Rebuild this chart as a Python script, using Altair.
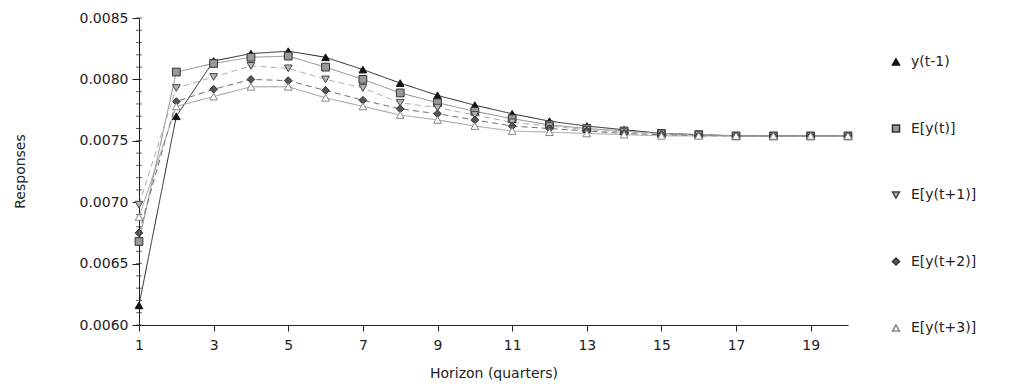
import altair as alt
import pandas as pd

horizon = list(range(1, 21))
series_names = ["y(t-1)", "E[y(t)]", "E[y(t+1)]", "E[y(t+2)]", "E[y(t+3)]"]

y_tm1 = [0.00616, 0.00770, 0.00815, 0.00821, 0.00823, 0.00818, 0.00808, 0.00797, 0.00787, 0.00779,
         0.00772, 0.00766, 0.00762, 0.00759, 0.00756, 0.00755, 0.00754, 0.00754, 0.00754, 0.00754]
e_t = [0.00668, 0.00806, 0.00813, 0.00818, 0.00819, 0.00810, 0.00800, 0.00789, 0.00781, 0.00774,
       0.00768, 0.00763, 0.00760, 0.00758, 0.00756, 0.00755, 0.00754, 0.00754, 0.00754, 0.00754]
e_t1 = [0.00698, 0.00793, 0.00802, 0.00811, 0.00809, 0.00800, 0.00793, 0.00781, 0.00777, 0.00771,
        0.00765, 0.00762, 0.00759, 0.00757, 0.00756, 0.00755, 0.00754, 0.00754, 0.00754, 0.00754]
e_t2 = [0.00675, 0.00782, 0.00792, 0.00800, 0.00799, 0.00791, 0.00783, 0.00776, 0.00772, 0.00767,
        0.00762, 0.00760, 0.00758, 0.00756, 0.00755, 0.00754, 0.00754, 0.00754, 0.00754, 0.00754]
e_t3 = [0.00688, 0.00778, 0.00786, 0.00794, 0.00794, 0.00785, 0.00778, 0.00771, 0.00767, 0.00762,
        0.00758, 0.00757, 0.00756, 0.00755, 0.00754, 0.00754, 0.00754, 0.00754, 0.00754, 0.00754]

all_values = [y_tm1, e_t, e_t1, e_t2, e_t3]
rows = []
for name, vals in zip(series_names, all_values):
    for h, v in zip(horizon, vals):
        rows.append({"h": h, "v": v, "s": name})
df = pd.DataFrame(rows)

line_colors = ["#222222", "#8a8a8a", "#b0b0b0", "#707070", "#9a9a9a"]
line_dash = [[1, 0], [1, 0], [6, 4], [6, 4], [1, 0]]
shapes = ["triangle-up", "square", "triangle-down", "diamond", "triangle-up"]
fills = ["#111111", "#999999", "#b5b5b5", "#555555", "#ffffff"]
strokes = ["#111111", "#333333", "#444444", "#333333", "#888888"]

font = "DejaVu Sans"
fsize = 14

x_enc = alt.X("h:Q", scale=alt.Scale(domain=[1, 20], nice=False, zero=False),
              axis=alt.Axis(values=horizon, labelExpr="datum.value % 2 == 1 ? datum.label : ''",
                            title="Horizon (quarters)", grid=False, tickSize=6,
                            labelPadding=7, titlePadding=14, labelFlush=False))
y_enc = alt.Y("v:Q", scale=alt.Scale(domain=[0.0060, 0.0085], nice=False, zero=False),
              axis=alt.Axis(values=[0.0060, 0.0065, 0.0070, 0.0075, 0.0080, 0.0085], format=".4f",
                            title="Responses", grid=False, tickSize=7, labelPadding=4,
                            titleX=-119, titleY=153, titleAngle=-90, titleAlign="center",
                            titleBaseline="middle"))

lines = alt.Chart(df).mark_line(strokeWidth=1).encode(
    x=x_enc, y=y_enc,
    color=alt.Color("s:N", scale=alt.Scale(domain=series_names, range=line_colors), legend=None),
    strokeDash=alt.StrokeDash("s:N", scale=alt.Scale(domain=series_names, range=line_dash), legend=None),
    detail="s:N",
)

minor_vals = [round(0.0060 + 0.0001 * i, 4) for i in range(26)]
minor = alt.Chart(pd.DataFrame({"v": minor_vals})).mark_tick(
    orient="horizontal", size=6, thickness=1, color="#222222"
).encode(
    y=alt.Y("v:Q"),
    x=alt.value(0),
)

leg = alt.Legend(title=None, orient="none", legendX=750, legendY=37,
                 rowPadding=52.5, labelFontSize=fsize, labelFont=font,
                 labelColor="#222222", symbolSize=50, labelOffset=8, padding=0)

points = alt.Chart(df).mark_point(filled=True, size=60, opacity=1, strokeWidth=1).encode(
    x="h:Q", y="v:Q",
    shape=alt.Shape("s:N", scale=alt.Scale(domain=series_names, range=shapes), legend=leg),
    fill=alt.Fill("s:N", scale=alt.Scale(domain=series_names, range=fills), legend=leg),
    stroke=alt.Stroke("s:N", scale=alt.Scale(domain=series_names, range=strokes), legend=leg),
)

chart = alt.layer(minor, lines, points).resolve_legend(
    color="independent", strokeDash="independent"
).properties(
    width=709, height=307,
    autosize=alt.AutoSizeParams(type="none"),
    padding={"left": 131, "top": 10, "right": 159, "bottom": 57},
).configure_view(stroke=None).configure_axis(
    labelFont=font, titleFont=font, labelFontSize=fsize, titleFontSize=fsize,
    labelColor="#222222", titleColor="#222222", domainColor="#222222", tickColor="#222222",
    titleFontWeight="normal",
).configure_axisX(domainWidth=1.2)

chart.save("out.html", embed_options={"renderer": "svg", "actions": False})
